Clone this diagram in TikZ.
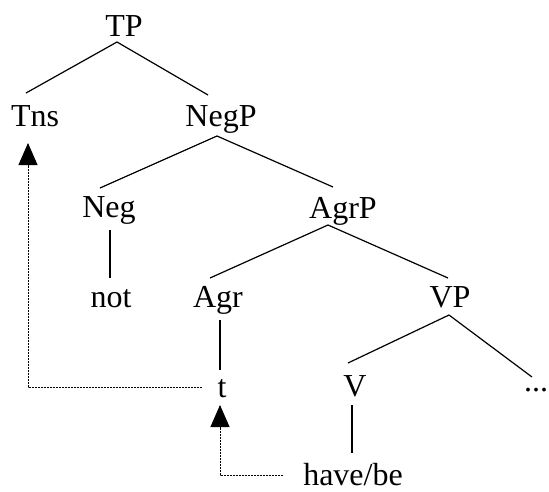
\documentclass[tikz,border=0pt]{standalone}
\usepackage{fontspec}
\setmainfont{Liberation Serif}
\usetikzlibrary{calc,arrows.meta}
\begin{document}
\begin{tikzpicture}[x=1pt,y=-1pt,
  lab/.style={anchor=base,inner sep=0pt,font=\fontsize{32}{38}\selectfont},
  branch/.style={line width=1.2pt},
  movearrow/.style={line width=0.9pt,dash pattern=on 2pt off 1pt,
     -{Triangle[length=22pt,width=19pt]}}]
\useasboundingbox (0,0) rectangle (549,491);
\node[lab] (TP)   at (124,36)  {TP};
\node[lab] (Tns)  at (35,126)  {Tns};
\node[lab] (NegP) at (221,126) {NegP};
\node[lab] (Neg)  at (109,217) {Neg};
\node[lab] (AgrP) at (343,218) {AgrP};
\node[lab] (not)  at (111,307) {not};
\node[lab] (Agr)  at (218,307) {Agr};
\node[lab] (VP)   at (450,307) {VP};
\node[lab] (t)    at (222,397) {t};
\node[lab] (V)    at (355,396) {V};
\node[lab] (dots) at (536,391) {...};
\node[lab] (hb)   at (353,485) {have/be};
% branches
\draw[branch] ($(TP.base)+(-7,6)$) -- ($(Tns.base)+(-9,-33)$);
\draw[branch] ($(TP.base)+(-7,6)$) -- ($(NegP.base)+(-13,-31)$);
\draw[branch] ($(NegP.base)+(-4,10)$) -- ($(Neg.base)+(-9,-29)$);
\draw[branch] ($(NegP.base)+(-4,10)$) -- ($(AgrP.base)+(-10,-31)$);
\draw[branch] ($(Neg.base)+(1,13)$) -- ($(not.base)+(-1,-29)$);
\draw[branch] ($(AgrP.base)+(-15,7)$) -- ($(Agr.base)+(-8,-29)$);
\draw[branch] ($(AgrP.base)+(-15,7)$) -- ($(VP.base)+(-2,-29)$);
\draw[branch] ($(Agr.base)+(2,13)$) -- ($(t.base)+(-2,-27)$);
\draw[branch] ($(VP.base)+(-1,8)$) -- ($(V.base)+(-7,-33)$);
\draw[branch] ($(VP.base)+(-1,8)$) -- ($(dots.base)+(-4,-14)$);
\draw[branch] ($(V.base)+(-3,9)$) -- ($(hb.base)+(-1,-32)$);
% movement arrows
\draw[movearrow] ($(t.base)+(-20,-10)$) -| ($(Tns.base)+(-7,17)$);
\draw[movearrow] ($(hb.base)+(-70,-10)$) -| ($(t.base)+(-2,8)$);
\end{tikzpicture}
\end{document}
